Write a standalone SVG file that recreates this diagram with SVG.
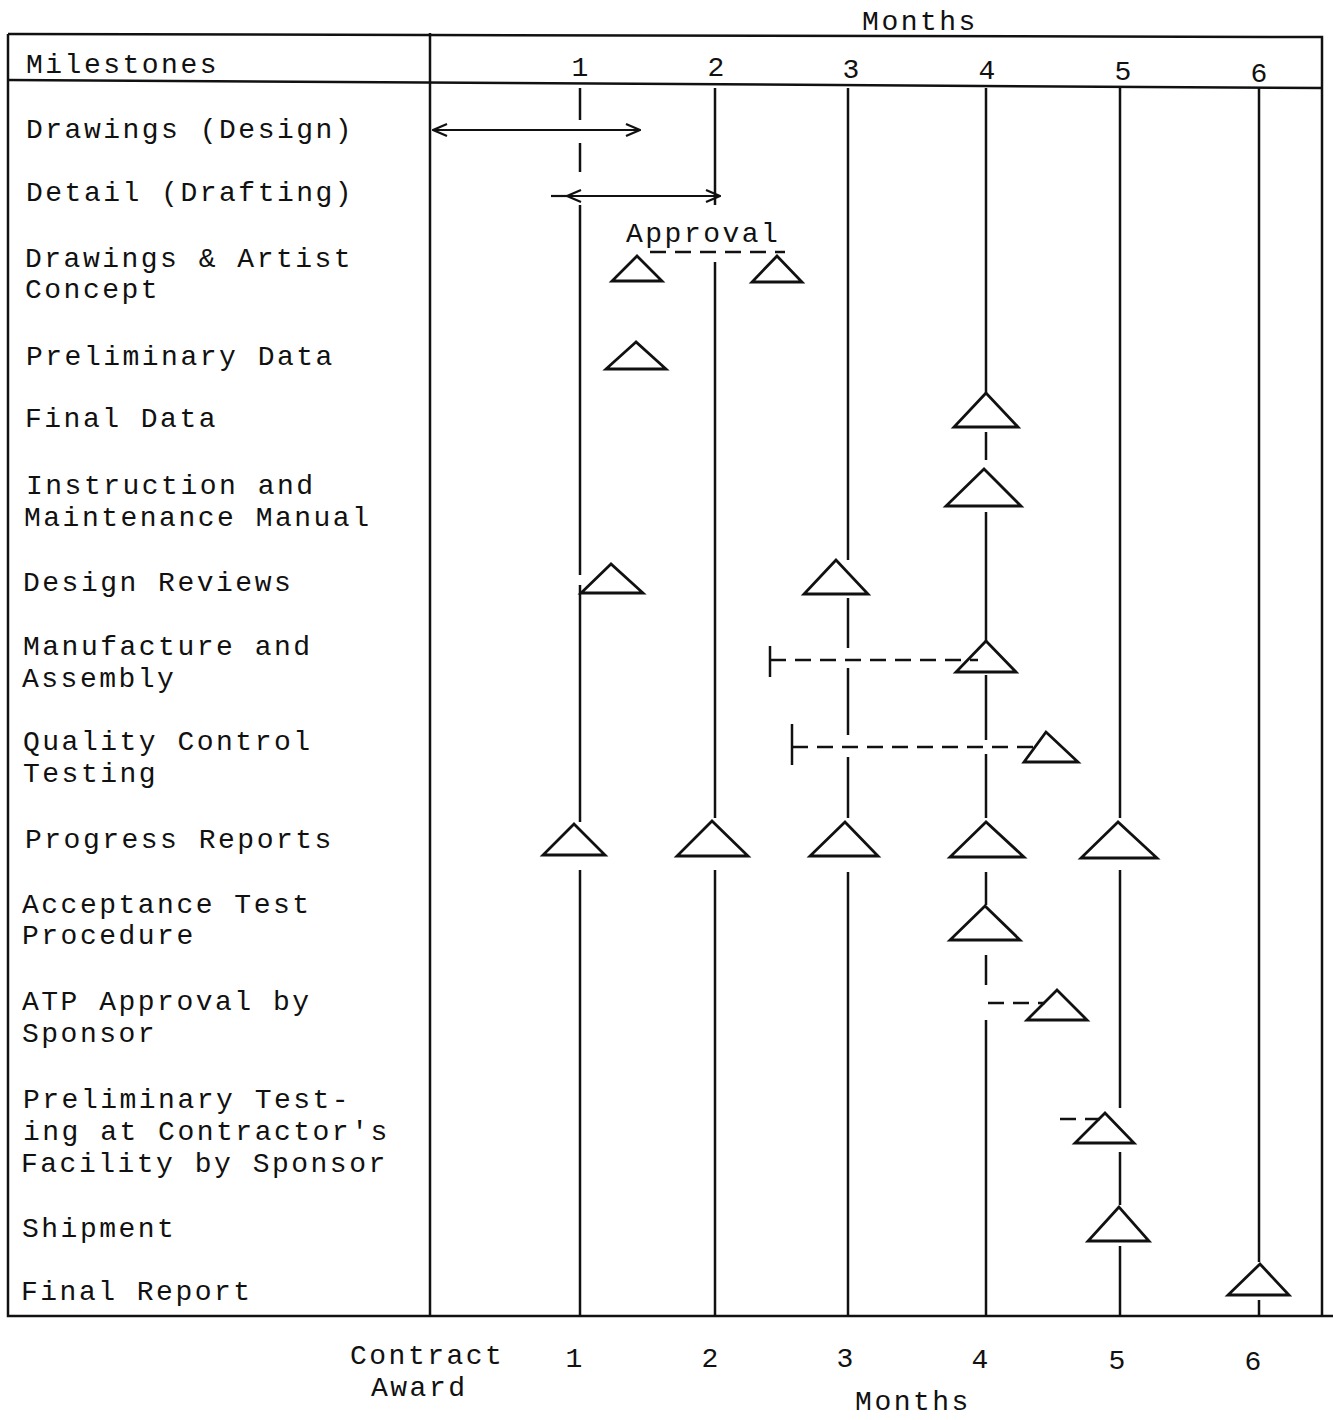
<svg xmlns="http://www.w3.org/2000/svg" width="1333" height="1420" viewBox="0 0 1333 1420">
<defs>
<style>
text{font-family:"Liberation Mono","Courier New",monospace;font-size:28px;letter-spacing:2.5px;fill:#111;}
.c{text-anchor:middle;letter-spacing:0;}
.frame{stroke:#111;stroke-width:2.5;fill:none;}
.grid{stroke:#111;stroke-width:2.5;fill:none;}
.tri{stroke:#111;stroke-width:2.8;fill:none;stroke-linejoin:miter;}
.dash{stroke:#111;stroke-width:2.5;fill:none;stroke-dasharray:16 9;}
.arr{stroke:#111;stroke-width:2.2;fill:none;}
</style>
<marker id="oa" viewBox="0 0 16 16" refX="15" refY="8" markerWidth="16" markerHeight="16" markerUnits="userSpaceOnUse" orient="auto-start-reverse">
<path d="M1,2 L15,8 L1,14" fill="none" stroke="#111" stroke-width="2.2"/>
</marker>
</defs>
<rect width="1333" height="1420" fill="#fff"/>
<g id="frame">
<path class="frame" d="M8,34 L1322,37 L1322,1316"/>
<path class="frame" d="M8,34 L8,1316 L1333,1316"/>
<path class="frame" d="M8,80 L1322,88"/>
<path class="frame" d="M430,33 L430,1316"/>
</g>
<g id="header">
<text class="c" x="920" y="30" style="letter-spacing:2.5px">Months</text>
<text x="26" y="73">Milestones</text>
<text class="c" x="580" y="76">1</text>
<text class="c" x="716" y="76">2</text>
<text class="c" x="851" y="78">3</text>
<text class="c" x="987" y="79">4</text>
<text class="c" x="1123" y="80">5</text>
<text class="c" x="1259" y="82">6</text>
</g>
<g id="month-lines">
<path class="grid" d="M580,88 V120 M580,143 V172 M580,205 V575 M580,585 V822 M580,870 V1316"/>
<path class="grid" d="M715,88 V205 M715,262 V818 M715,870 V1316"/>
<path class="grid" d="M848,88 V560 M848,598 V648 M848,668 V735 M848,757 V818 M848,872 V1316"/>
<path class="grid" d="M986,88 V393 M986,432 V460 M986,512 V642 M986,675 V740 M986,754 V818 M986,872 V905 M986,955 V985 M986,1020 V1316"/>
<path class="grid" d="M1120,88 V818 M1120,870 V1108 M1120,1152 V1205 M1120,1246 V1316"/>
<path class="grid" d="M1259,88 V1262 M1259,1300 V1316"/>
</g>
<g id="row-labels">
<text x="26" y="138">Drawings (Design)</text>
<text x="26" y="201">Detail (Drafting)</text>
<text x="25" y="267">Drawings &amp; Artist</text>
<text x="25" y="298">Concept</text>
<text x="26" y="365">Preliminary Data</text>
<text x="25" y="427">Final Data</text>
<text x="26" y="494">Instruction and</text>
<text x="24" y="526">Maintenance Manual</text>
<text x="23" y="591">Design Reviews</text>
<text x="23" y="655">Manufacture and</text>
<text x="22" y="687">Assembly</text>
<text x="23" y="750">Quality Control</text>
<text x="23" y="782">Testing</text>
<text x="25" y="848">Progress Reports</text>
<text x="22" y="913">Acceptance Test</text>
<text x="22" y="944">Procedure</text>
<text x="22" y="1010">ATP Approval by</text>
<text x="22" y="1042">Sponsor</text>
<text x="23" y="1108">Preliminary Test-</text>
<text x="23" y="1140">ing at Contractor's</text>
<text x="21" y="1172">Facility by Sponsor</text>
<text x="22" y="1237">Shipment</text>
<text x="21" y="1300">Final Report</text>
</g>
<g id="connectors">
<path class="arr" d="M433,130 H640" marker-start="url(#oa)" marker-end="url(#oa)"/>
<path class="arr" d="M551,196 H567"/>
<path class="arr" d="M567,196 H720" marker-start="url(#oa)" marker-end="url(#oa)"/>
<path class="dash" d="M650,252 H785"/>
<path class="grid" d="M770,646 V677"/>
<path class="dash" d="M770,660 H978"/>
<path class="grid" d="M792,724 V765"/>
<path class="dash" d="M792,747 H1040"/>
<path class="dash" d="M988,1003 H1045"/>
<path class="dash" d="M1060,1119 H1100"/>
</g>
<g id="approval">
<text x="626" y="242">Approval</text>
</g>
<g id="milestones">
<path class="tri" d="M637,256 L612,281 H662 Z"/>
<path class="tri" d="M777,256 L752,282 H802 Z"/>
<path class="tri" d="M636,342 L606,369 H666 Z"/>
<path class="tri" d="M986,393 L954,427 H1018 Z"/>
<path class="tri" d="M984,469 L946,506 H1021 Z"/>
<path class="tri" d="M611,564 L581,593 H643 Z"/>
<path class="tri" d="M836,560 L804,594 H868 Z"/>
<path class="tri" d="M986,641 L956,672 H1016 Z"/>
<path class="tri" d="M1046,732 L1024,762 H1078 Z"/>
<path class="tri" d="M574,824 L543,855 H605 Z"/>
<path class="tri" d="M712,821 L677,856 H748 Z"/>
<path class="tri" d="M845,822 L810,856 H878 Z"/>
<path class="tri" d="M986,822 L950,857 H1024 Z"/>
<path class="tri" d="M1118,822 L1081,858 H1157 Z"/>
<path class="tri" d="M985,906 L950,940 H1020 Z"/>
<path class="tri" d="M1057,990 L1027,1020 H1087 Z"/>
<path class="tri" d="M1105,1113 L1075,1143 H1134 Z"/>
<path class="tri" d="M1119,1207 L1088,1241 H1149 Z"/>
<path class="tri" d="M1260,1264 L1228,1295 H1289 Z"/>
</g>
<g id="footer">
<text x="350" y="1364">Contract</text>
<text x="371" y="1396">Award</text>
<text class="c" x="574" y="1367">1</text>
<text class="c" x="710" y="1367">2</text>
<text class="c" x="845" y="1367">3</text>
<text class="c" x="980" y="1368">4</text>
<text class="c" x="1117" y="1369">5</text>
<text class="c" x="1253" y="1370">6</text>
<text class="c" x="913" y="1410" style="letter-spacing:2.5px">Months</text>
</g>
</svg>
